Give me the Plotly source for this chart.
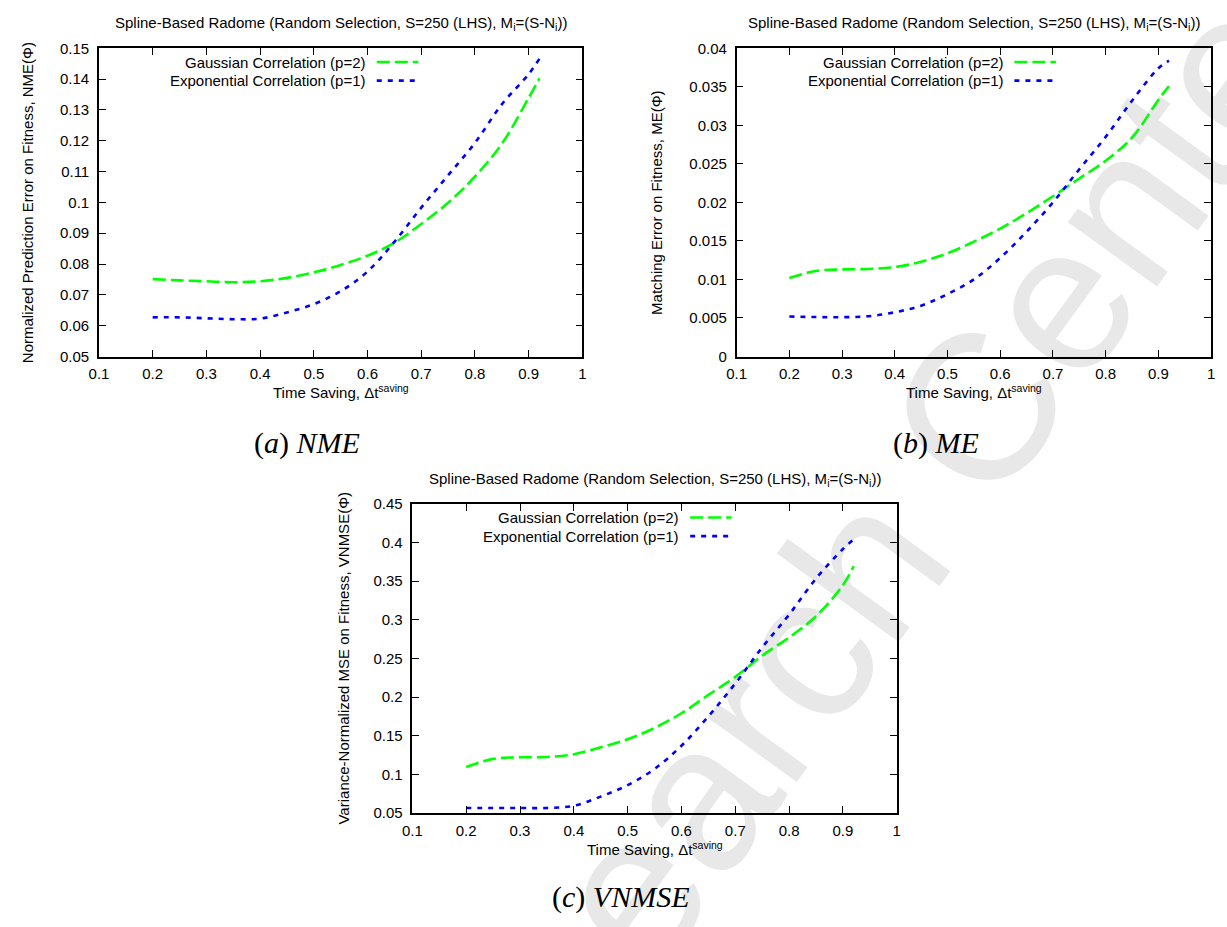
import plotly.graph_objects as go

# ---------------- data ----------------
time_saving = [0.2, 0.25, 0.3, 0.35, 0.4, 0.45, 0.5, 0.55, 0.6, 0.65, 0.7, 0.75, 0.8, 0.85, 0.9, 0.92]

nme_gauss = [0.0751, 0.0747, 0.0744, 0.0741, 0.0744, 0.0755, 0.0773, 0.0797, 0.0827, 0.0869,
             0.0930, 0.0999, 0.1084, 0.1190, 0.1339, 0.1402]
nme_exp = [0.0627, 0.0627, 0.0624, 0.0621, 0.0623, 0.0643, 0.0670, 0.0712, 0.0776, 0.0872,
           0.0983, 0.1088, 0.1193, 0.1318, 0.1416, 0.1466]

me_gauss = [0.0102, 0.0111, 0.0113, 0.01136, 0.0116, 0.0123, 0.0134, 0.0149, 0.0166, 0.0186,
            0.0208, 0.0231, 0.0254, 0.0284, 0.0333, 0.0351]
me_exp = [0.00519, 0.00512, 0.0051, 0.00523, 0.00574, 0.0066, 0.0081, 0.0100, 0.0128, 0.0162,
          0.0200, 0.0243, 0.0285, 0.0332, 0.0374, 0.0384]

vnmse_gauss = [0.1094, 0.1200, 0.1220, 0.1225, 0.1260, 0.1350, 0.1454, 0.1600, 0.1790, 0.2027,
               0.2260, 0.2536, 0.2770, 0.3045, 0.3448, 0.3694]
vnmse_exp = [0.0564, 0.0564, 0.0564, 0.0565, 0.0593, 0.0712, 0.0860, 0.1070, 0.1370, 0.1750,
             0.2176, 0.2642, 0.3066, 0.3533, 0.3915, 0.4042]

x_ticks = [0.1, 0.2, 0.3, 0.4, 0.5, 0.6, 0.7, 0.8, 0.9, 1.0]
x_ticktext = ["0.1", "0.2", "0.3", "0.4", "0.5", "0.6", "0.7", "0.8", "0.9", "1"]

nme_ticks = [0.05, 0.06, 0.07, 0.08, 0.09, 0.10, 0.11, 0.12, 0.13, 0.14, 0.15]
nme_ticktext = ["0.05", "0.06", "0.07", "0.08", "0.09", "0.1", "0.11", "0.12", "0.13", "0.14", "0.15"]
me_ticks = [0, 0.005, 0.01, 0.015, 0.02, 0.025, 0.03, 0.035, 0.04]
me_ticktext = ["0", "0.005", "0.01", "0.015", "0.02", "0.025", "0.03", "0.035", "0.04"]
vnmse_ticks = [0.05, 0.1, 0.15, 0.2, 0.25, 0.3, 0.35, 0.4, 0.45]
vnmse_ticktext = ["0.05", "0.1", "0.15", "0.2", "0.25", "0.3", "0.35", "0.4", "0.45"]

series_names = ["Gaussian Correlation (p=2)", "Exponential Correlation (p=1)"]
panel_title = "Spline-Based Radome (Random Selection, S=250 (LHS), M<sub>i</sub>=(S-N<sub>i</sub>))"
x_title = "Time Saving, Δt<sup>saving</sup>"
y_titles = ["Normalized Prediction Error on Fitness, NME(Φ)",
            "Matching Error on Fitness, ME(Φ)",
            "Variance-Normalized MSE on Fitness, VNMSE(Φ)"]
captions = ["(<i>a</i>) <i>NME</i>", "(<i>b</i>) <i>ME</i>", "(<i>c</i>) <i>VNMSE</i>"]
watermark = "Research Center"

# ---------------- layout helpers ----------------
W, H = 1227, 927
def px(x):
    return x / W
def py(y):
    return 1 - y / H

SANS = "Liberation Sans, Arial, Helvetica, sans-serif"
SERIF = "Liberation Serif, Times New Roman, serif"
GREEN = "#00ff00"
BLUE = "#0000ff"
G_DASH = "13px,5px"
B_DASH = "5px,6px"

panels = [
    dict(box=(90, 579, 40, 354), yvals=(nme_gauss, nme_exp), yticks=nme_ticks, yticktext=nme_ticktext,
         yrange=[0.05, 0.15], ytitle_x=18, caption_x=300, caption_y=442),
    dict(box=(735, 1215, 40, 354), yvals=(me_gauss, me_exp), yticks=me_ticks, yticktext=me_ticktext,
         yrange=[0, 0.04], ytitle_x=654, caption_x=937, caption_y=442),
    dict(box=(407, 897, 504, 819), yvals=(vnmse_gauss, vnmse_exp), yticks=vnmse_ticks, yticktext=vnmse_ticktext,
         yrange=[0.05, 0.45], ytitle_x=337, caption_x=618, caption_y=905),
]

fig = go.Figure()
annotations = []
shapes = []

for i, p in enumerate(panels):
    n = "" if i == 0 else str(i + 1)
    L, R, T, B = p["box"]
    xa = "x" + n
    ya = "y" + n
    g, e = p["yvals"]
    fig.add_trace(go.Scatter(x=time_saving, y=g, mode="lines", name=series_names[0], xaxis=xa, yaxis=ya,
                             line=dict(color=GREEN, width=2.6, dash=G_DASH, shape="spline", smoothing=1.0),
                             showlegend=False))
    fig.add_trace(go.Scatter(x=time_saving, y=e, mode="lines", name=series_names[1], xaxis=xa, yaxis=ya,
                             line=dict(color=BLUE, width=2.6, dash=B_DASH, shape="spline", smoothing=1.0),
                             showlegend=False))
    axis_common = dict(showline=True, linecolor="black", linewidth=1.5, mirror="ticks", ticks="inside",
                       ticklen=7, tickwidth=1, tickcolor="black", showgrid=False, zeroline=False,
                       tickfont=dict(family=SANS, size=15, color="black"))
    fig.update_layout({
        "xaxis" + n: dict(domain=[px(L), px(R)], range=[0.1, 1.0], tickvals=x_ticks, ticktext=x_ticktext,
                          anchor=ya, ticklabelstandoff=3, **axis_common),
        "yaxis" + n: dict(domain=[py(B), py(T)], range=p["yrange"], tickvals=p["yticks"], ticktext=p["yticktext"],
                          anchor=xa, ticklabelstandoff=5, **axis_common),
    })
    cx = (L + R) / 2
    # panel title
    annotations.append(dict(text=panel_title, x=px(cx), y=py(T - 25), xref="paper", yref="paper",
                            xanchor="center", yanchor="middle", showarrow=False,
                            font=dict(family=SANS, size=15, color="black")))
    # x title
    annotations.append(dict(text=x_title, x=px(cx), y=py(B + 36), xref="paper", yref="paper",
                            xanchor="center", yanchor="middle", showarrow=False,
                            font=dict(family=SANS, size=15, color="black")))
    # y title
    annotations.append(dict(text=y_titles[i], x=px(p["ytitle_x"]), y=py((T + B) / 2), xref="paper", yref="paper",
                            xanchor="center", yanchor="middle", showarrow=False, textangle=-90,
                            font=dict(family=SANS, size=15, color="black")))
    # caption
    annotations.append(dict(text=captions[i], x=px(p["caption_x"]), y=py(p["caption_y"]), xref="paper", yref="paper",
                            xanchor="center", yanchor="middle", showarrow=False,
                            font=dict(family=SERIF, size=30, color="black")))
    # legend (gnuplot style: text right-aligned, sample to the right)
    for k, (name, col, dash) in enumerate([(series_names[0], GREEN, G_DASH), (series_names[1], BLUE, B_DASH)]):
        ry = T + 14 + 19 * k
        annotations.append(dict(text=name, x=px(L + 272), y=py(ry), xref="paper", yref="paper",
                                xanchor="right", yanchor="middle", showarrow=False,
                                font=dict(family=SANS, size=15, color="black")))
        shapes.append(dict(type="line", xref="paper", yref="paper", x0=px(L + 281), x1=px(L + 323),
                           y0=py(ry), y1=py(ry), line=dict(color=col, width=2.6, dash=dash), layer="above"))

# watermark (behind everything)
wx, wy = 822, 592
shapes.append(dict(type="rect", xref="paper", yref="paper", x0=px(wx - 4), x1=px(wx + 4), y0=py(wy + 4), y1=py(wy - 4),
                   line=dict(width=0), fillcolor="rgba(0,0,0,0)", layer="below",
                   label=dict(text=watermark, textangle=-54, textposition="middle center",
                              font=dict(family=SANS, size=208, color="#e8e8e8"))))

fig.update_layout(width=W, height=H, margin=dict(l=0, r=0, t=0, b=0),
                  paper_bgcolor="white", plot_bgcolor="rgba(0,0,0,0)",
                  showlegend=False, annotations=annotations, shapes=shapes)

fig.write_html("out.html")
